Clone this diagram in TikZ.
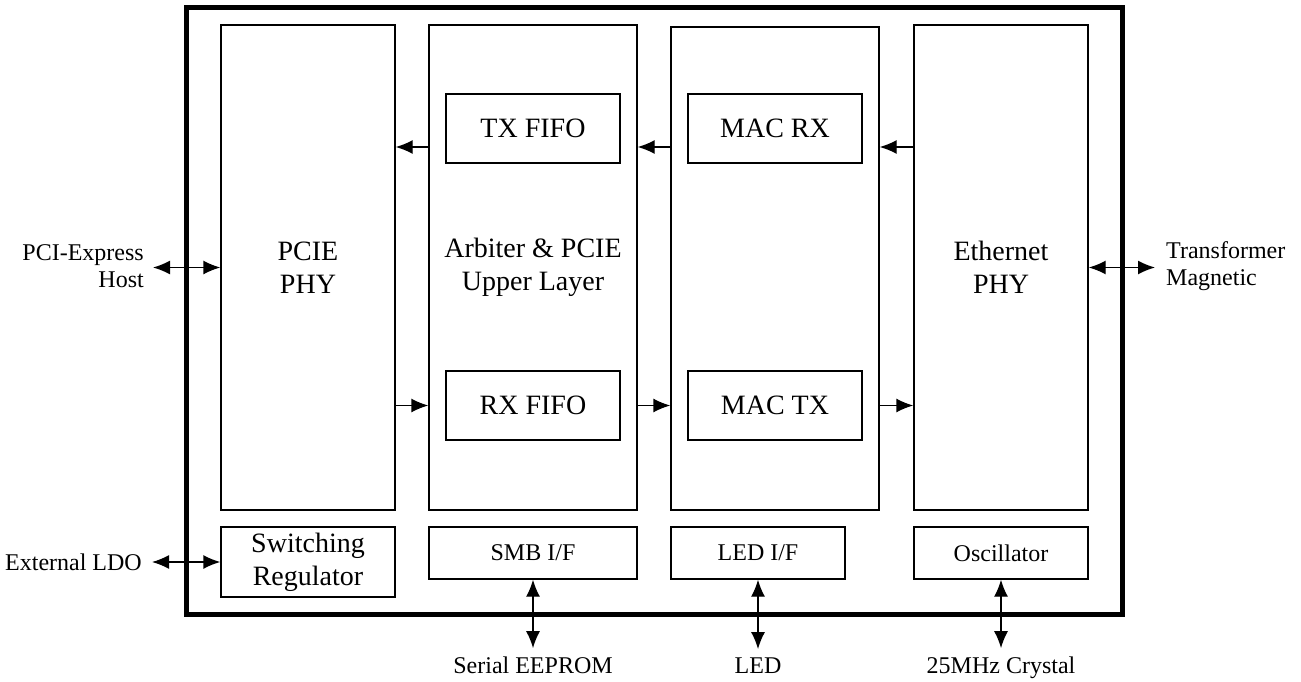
\documentclass[tikz,border=0pt]{standalone}
\usepackage{fontspec}
\setmainfont{Liberation Serif}
\usetikzlibrary{arrows.meta}
\newcommand{\bigtxt}{\fontsize{28}{33}\selectfont}
\newcommand{\smalltxt}{\fontsize{24}{27}\selectfont}

\begin{document}
\begin{tikzpicture}[x=1pt,y=1pt,yscale=-1,
  box/.style={draw, line width=1.4pt, inner sep=0pt, align=center, font=\bigtxt},
  lbl/.style={inner sep=0pt, align=center, font=\smalltxt},
  one/.style={-{Latex[length=17pt,width=14pt]}, line width=1.4pt},
  dbl/.style={{Latex[length=17pt,width=14pt]}-{Latex[length=17pt,width=14pt]}, line width=1.4pt}]
        \useasboundingbox (0,0) rectangle (1301,682);

        %Shape: Rectangle [outer frame]
        \draw[line width=5pt] (186,8) rectangle (1122,614);

        %Shape: Rectangle [main blocks]
        \node[box, minimum width=174, minimum height=485] (pcie) at (308,267.5) {PCIE\\PHY};
        \node[box, minimum width=208, minimum height=485] (arb) at (533,267.5) {Arbiter \& PCIE\\Upper Layer};
        \node[box, minimum width=208, minimum height=483] (mac) at (775,268.5) {};
        \node[box, minimum width=174, minimum height=485] (eth) at (1001,267.5) {Ethernet\\PHY};

        %Shape: Rectangle [inner blocks]
        \node[box, minimum width=174, minimum height=69] (txf) at (533,128.5) {TX FIFO};
        \node[box, minimum width=174, minimum height=69] (rxf) at (533,405.5) {RX FIFO};
        \node[box, minimum width=174, minimum height=69] (macrx) at (775,128.5) {MAC RX};
        \node[box, minimum width=174, minimum height=69] (mactx) at (775,405.5) {MAC TX};

        %Shape: Rectangle [bottom row]
        \node[box, minimum width=174, minimum height=70] (sw) at (308,562) {Switching\\Regulator};
        \node[box, font=\smalltxt, minimum width=208, minimum height=52] (smb) at (533,553) {SMB I/F};
        \node[box, font=\smalltxt, minimum width=174, minimum height=52] (ledif) at (758,553) {LED I/F};
        \node[box, font=\smalltxt, minimum width=174, minimum height=52] (osc) at (1001,553) {Oscillator};

        %Text: outside labels
        \node[lbl, align=right, anchor=east, inner xsep=9pt] (host) at (153,266) {PCI-Express\\Host};
        \node[lbl, align=left, anchor=west, inner xsep=11pt] (xfmr) at (1155,266) {Transformer\\Magnetic};
        \node[lbl, anchor=east, inner xsep=10pt] (ldo) at (152,562) {External LDO};
        \node[lbl, anchor=base, inner ysep=8pt] (eeprom) at (533,673) {Serial EEPROM};
        \node[lbl, anchor=base, inner ysep=8pt] (led) at (758,673) {LED};
        \node[lbl, anchor=base, inner ysep=8pt] (xtal) at (1001,673) {25MHz Crystal};

        %Straight Lines [receive path]
        \coordinate (toprow) at (0,147);
        \draw[one] (arb.west |- toprow) -- (pcie.east |- toprow);
        \draw[one] (mac.west |- toprow) -- (arb.east |- toprow);
        \draw[one] (eth.west |- toprow) -- (mac.east |- toprow);

        %Straight Lines [transmit path]
        \draw[one] (pcie.east |- rxf.west) -- (arb.west |- rxf.west);
        \draw[one] (arb.east |- rxf.west) -- (mac.west |- rxf.west);
        \draw[one] (mac.east |- rxf.west) -- (eth.west |- rxf.west);

        %Straight Lines [external links]
        \draw[dbl] (host.east |- pcie.west) -- (pcie.west);
        \draw[dbl] (eth.east) -- (xfmr.west |- eth.east);
        \draw[dbl] (ldo.east |- sw.west) -- (sw.west);
        \draw[dbl] (smb.south) -- (smb.south |- eeprom.north);
        \draw[dbl] (ledif.south) -- (ledif.south |- led.north);
        \draw[dbl] (osc.south) -- (osc.south |- xtal.north);
        \end{tikzpicture}
\end{document}
